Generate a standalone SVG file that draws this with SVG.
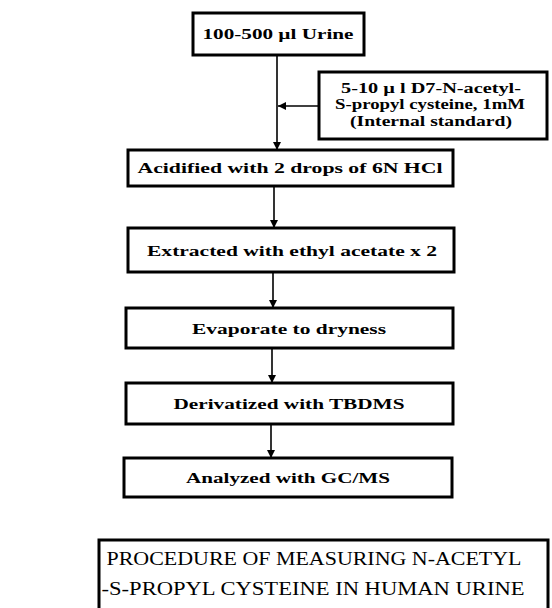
<svg xmlns="http://www.w3.org/2000/svg" width="552" height="608" viewBox="0 0 552 608">
<style>
.box{fill:#fff;stroke:#000;stroke-width:3}
.t{font-family:"Liberation Serif","DejaVu Serif",serif;font-weight:bold;font-size:15px;fill:#000;text-anchor:middle;dominant-baseline:central}
.tb{font-family:"Liberation Serif","DejaVu Serif",serif;font-size:18px;fill:#000;text-anchor:middle;dominant-baseline:central}
.c{stroke:#000;stroke-width:1.6;fill:none}
</style>
<defs>
<marker id="ah" viewBox="0 0 10 10" refX="10" refY="5" markerWidth="8" markerHeight="8" markerUnits="userSpaceOnUse" orient="auto">
<path d="M0,0 L10,5 L0,10 z" fill="#000"/>
</marker>
</defs>
<rect width="552" height="608" fill="#fff"/>
<g id="connectors">
<line class="c" x1="277" y1="55" x2="277" y2="150" marker-end="url(#ah)"/>
<line class="c" x1="319" y1="106" x2="278" y2="106" marker-end="url(#ah)"/>
<line class="c" x1="274" y1="186" x2="274" y2="228" marker-end="url(#ah)"/>
<line class="c" x1="273" y1="272" x2="273" y2="308" marker-end="url(#ah)"/>
<line class="c" x1="272" y1="348" x2="272" y2="383" marker-end="url(#ah)"/>
<line class="c" x1="271" y1="424" x2="271" y2="458" marker-end="url(#ah)"/>
</g>
<g id="urine">
<rect class="box" x="193" y="13" width="171" height="42"/>
<text class="t" x="278" y="34" textLength="151" lengthAdjust="spacingAndGlyphs">100-500 µl Urine</text>
</g>
<g id="internal-standard">
<rect class="box" x="319" y="72" width="228" height="67"/>
<text class="t" x="431" y="88" font-size="13" textLength="180" lengthAdjust="spacingAndGlyphs">5-10 µ l  D7-N-acetyl-</text>
<text class="t" x="430" y="104" font-size="13" textLength="190" lengthAdjust="spacingAndGlyphs">S-propyl cysteine, 1mM</text>
<text class="t" x="431" y="121" font-size="13" textLength="162" lengthAdjust="spacingAndGlyphs">(Internal standard)</text>
</g>
<g id="acidified">
<rect class="box" x="128" y="150" width="325" height="36"/>
<text class="t" x="290" y="168" textLength="305" lengthAdjust="spacingAndGlyphs">Acidified with 2 drops of 6N HCl</text>
</g>
<g id="extracted">
<rect class="box" x="128" y="228" width="326" height="44"/>
<text class="t" x="292" y="251" textLength="290" lengthAdjust="spacingAndGlyphs">Extracted with ethyl acetate x 2</text>
</g>
<g id="evaporate">
<rect class="box" x="126" y="308" width="327" height="40"/>
<text class="t" x="289" y="329" textLength="194" lengthAdjust="spacingAndGlyphs">Evaporate to dryness</text>
</g>
<g id="derivatized">
<rect class="box" x="126" y="383" width="327" height="41"/>
<text class="t" x="289" y="404" textLength="231" lengthAdjust="spacingAndGlyphs">Derivatized with TBDMS</text>
</g>
<g id="analyzed">
<rect class="box" x="124" y="458" width="328" height="39"/>
<text class="t" x="288" y="478" textLength="204" lengthAdjust="spacingAndGlyphs">Analyzed with GC/MS</text>
</g>
<g id="caption">
<rect class="box" x="99" y="540" width="449" height="80"/>
<text class="tb" x="314" y="559" textLength="415" lengthAdjust="spacingAndGlyphs">PROCEDURE OF MEASURING N-ACETYL</text>
<text class="tb" x="313" y="589" textLength="423" lengthAdjust="spacingAndGlyphs">-S-PROPYL CYSTEINE IN HUMAN URINE</text>
</g>
</svg>
